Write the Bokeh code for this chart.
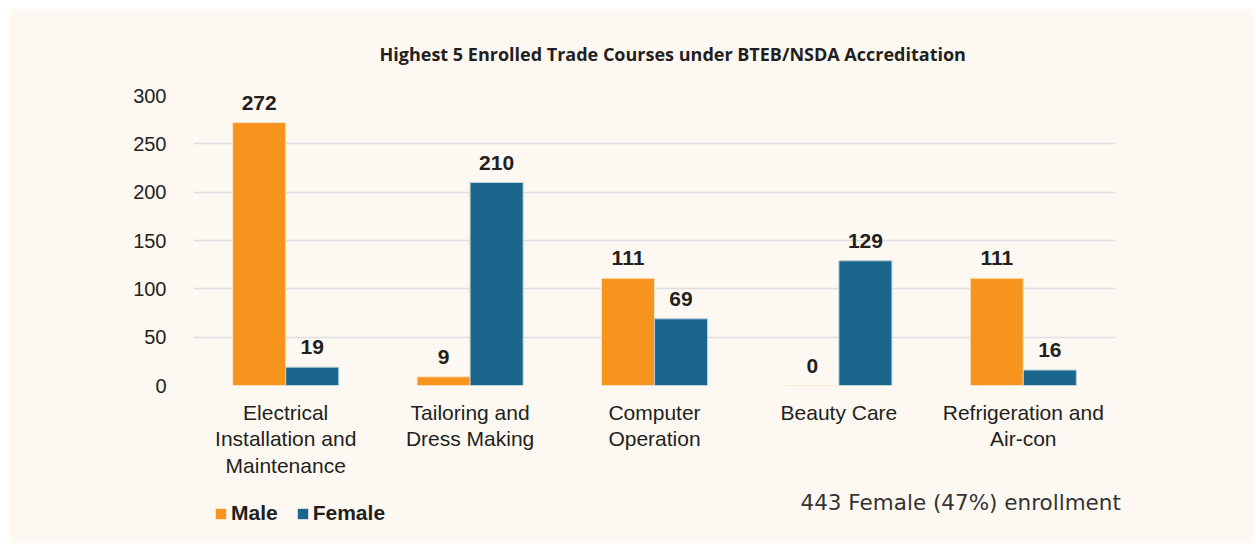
from bokeh.plotting import figure
from bokeh.models import (ColumnDataSource, FactorRange, Legend, LegendItem, Label,
                          FixedTicker, Range1d)
from bokeh.layouts import column
from bokeh.transform import dodge
from bokeh.core.properties import value
from bokeh.embed import file_html
from bokeh.resources import INLINE

courses = ["Electrical\nInstallation and\nMaintenance", "Tailoring and\nDress Making",
           "Computer\nOperation", "Beauty Care", "Refrigeration and\nAir-con"]
male = [272, 9, 111, 0, 111]
female = [19, 210, 69, 129, 16]
y_ticks = [0, 50, 100, 150, 200, 250, 300]
title_text = "Highest 5 Enrolled Trade Courses under BTEB/NSDA Accreditation"
note_text = "443 Female (47%) enrollment"

ORANGE = "#F7941E"
BLUE = "#1A668C"
BG = "#FDF9F2"
TXT = "#231F20"

src = ColumnDataSource(dict(course=courses, male=male, female=female,
                            male_lbl=[str(v) for v in male],
                            female_lbl=[str(v) for v in female]))

p = figure(x_range=FactorRange(*courses), y_range=(0, 300), width=1246, height=475,
           output_backend="svg", toolbar_location=None,
           min_border_left=184, min_border_right=140, min_border_top=86, min_border_bottom=99)
p.background_fill_color = BG
p.border_fill_color = BG
p.outline_line_color = None

bw = 0.2875
off = 0.1438
p.vbar(x=dodge("course", -off, range=p.x_range), top="male", width=bw, source=src,
       fill_color=ORANGE, line_color="#FBE3C4", line_width=1)
p.vbar(x=dodge("course", off, range=p.x_range), top="female", width=bw, source=src,
       fill_color=BLUE, line_color="#B9CFDB", line_width=1)

lbl_font = value("Liberation Sans")
p.text(x=dodge("course", -off, range=p.x_range), y="male", text="male_lbl", source=src,
       text_align="center", text_baseline="bottom", y_offset=-13,
       text_font=lbl_font, text_font_style="bold", text_font_size="21px", text_color=TXT)
p.text(x=dodge("course", off, range=p.x_range), y="female", text="female_lbl", source=src,
       text_align="center", text_baseline="bottom", y_offset=-13,
       text_font=lbl_font, text_font_style="bold", text_font_size="21px", text_color=TXT)

# axes
p.yaxis.ticker = FixedTicker(ticks=y_ticks)
for ax in (p.xaxis[0], p.yaxis[0]):
    ax.axis_line_color = None
    ax.major_tick_line_color = None
    ax.minor_tick_line_color = None
    ax.major_label_text_font = "Liberation Sans"
    ax.major_label_text_color = TXT
p.yaxis.major_label_text_font_size = "20px"
p.yaxis.major_label_standoff = 21
p.xaxis.major_label_text_font_size = "21px"
p.xaxis.major_label_standoff = 9
p.xaxis.major_label_text_line_height = 1.16

p.xgrid.grid_line_color = None
p.ygrid.grid_line_color = "#DEDFE2"
p.ygrid.grid_line_width = 1.5

# title
p.title.text = title_text
p.title.align = "left"
p.title.offset = 186
p.title.standoff = 60
p.title.text_font = "Open Sans"
p.title.text_font_style = "bold"
p.title.text_font_size = "18px"
p.title.text_color = TXT

# bottom strip: legend and note
s = figure(width=1246, height=59, x_range=Range1d(0, 1), y_range=Range1d(0, 1),
           output_backend="svg", toolbar_location=None,
           min_border_left=0, min_border_right=0, min_border_top=0, min_border_bottom=0)
try:
    s.frame_align = False
except Exception:
    pass
s.axis.visible = False
s.grid.grid_line_color = None
s.outline_line_color = None
s.background_fill_color = BG
s.border_fill_color = BG
lm = s.vbar(x="male", top="male", width=0.1, source=src, fill_color=ORANGE,
            line_color=None, visible=False)
lf = s.vbar(x="female", top="female", width=0.1, source=src, fill_color=BLUE,
            line_color=None, visible=False)
legend = Legend(items=[LegendItem(label="Male", renderers=[lm]),
                       LegendItem(label="Female", renderers=[lf])],
                orientation="horizontal", location=(205, 18),
                background_fill_alpha=0, border_line_color=None,
                inactive_fill_alpha=0,
                label_text_font="Liberation Sans", label_text_font_style="bold",
                label_text_font_size="21px", label_text_color=TXT,
                glyph_width=13, glyph_height=13, spacing=18, label_standoff=4,
                padding=0, margin=0)
s.add_layout(legend, "center")
s.add_layout(Label(x=791, y=41, x_units="screen", y_units="screen", text=note_text,
                   text_align="left", text_baseline="middle",
                   text_font="DejaVu Sans", text_font_size="21.5px", text_color="#333333"))

layout = column(p, s, spacing=0, margin=(9, 0, 0, 9))
layout.styles = {"background-color": BG}
open("out.html", "w").write(file_html(layout, INLINE))
